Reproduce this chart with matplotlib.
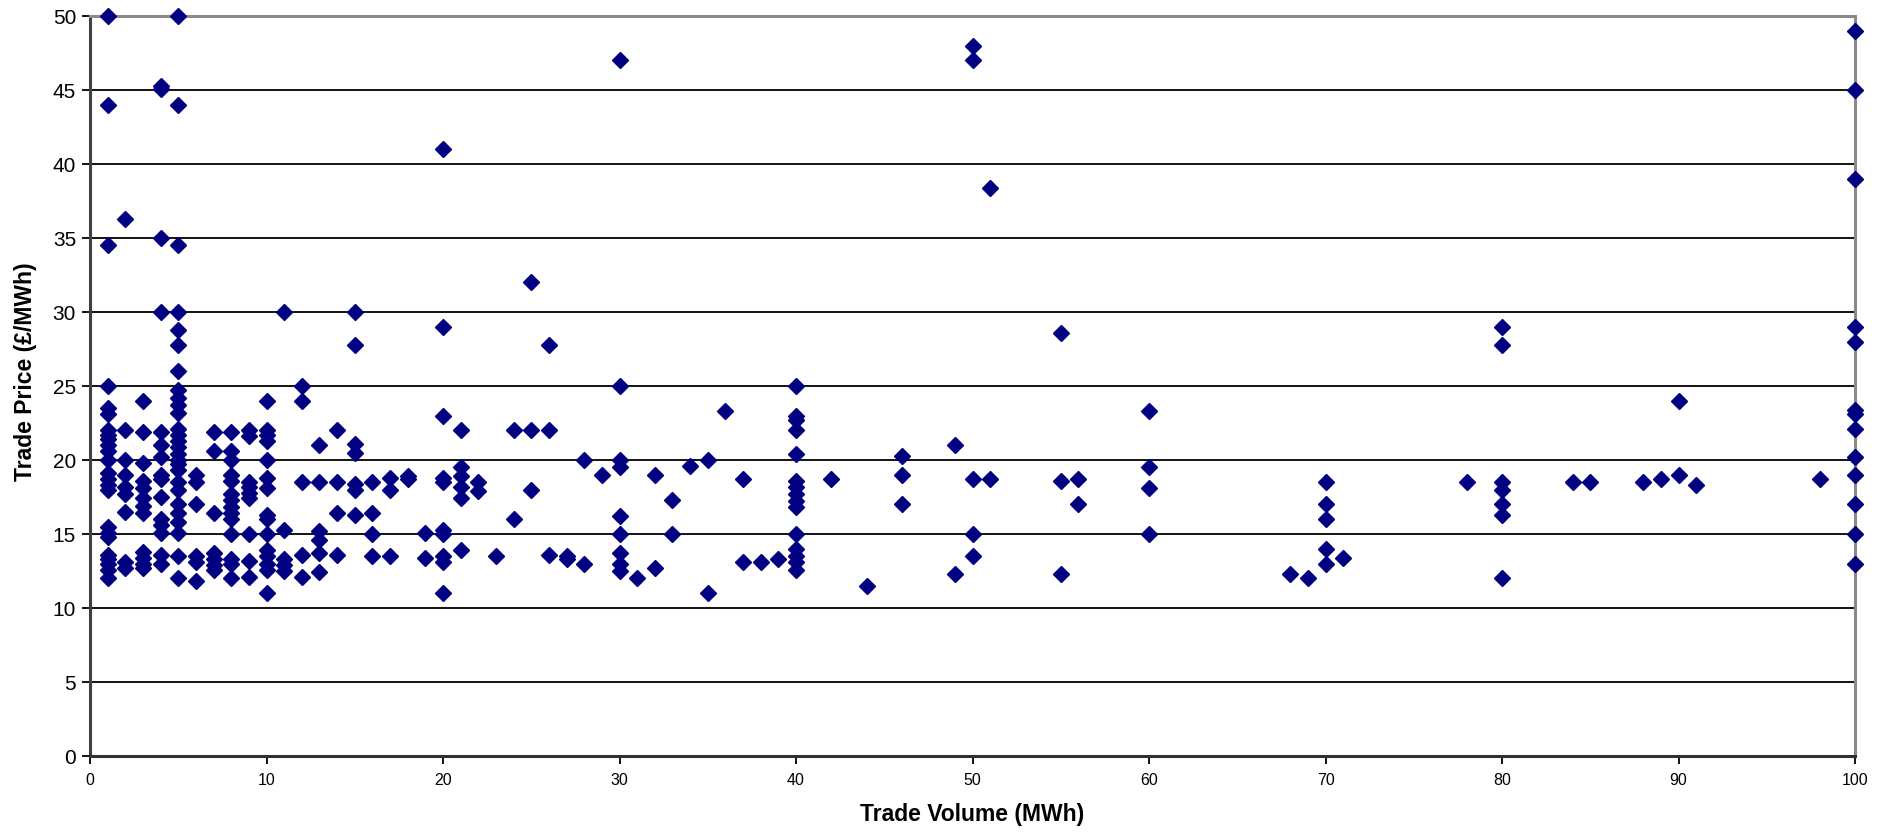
import matplotlib
matplotlib.use("Agg")
import matplotlib.pyplot as plt

# trade volume (MWh) levels and the trade prices (GBP/MWh) seen at each level
volume_levels = [1, 2, 3, 4, 5, 6, 7, 8, 9, 10,
                 11, 12, 13, 14, 15, 16, 17, 18, 19, 20,
                 21, 22, 23, 24, 25, 26, 27, 28, 29, 30,
                 31, 32, 33, 34, 35, 36, 37, 38, 39, 40,
                 42, 44, 46, 49, 50, 51, 55, 56, 60, 68,
                 69, 70, 71, 78, 80, 84, 85, 88, 89, 90,
                 91, 98, 100]

price_groups = [
    [50, 44, 34.5, 25, 23.5, 23.1, 22.0, 21.7, 21.4, 21.0, 20.6, 20.0, 19.1, 18.7,
     18.3, 18.0, 15.5, 15.1, 14.8, 13.6, 13.3, 13.0, 12.6, 12.0],
    [36.3, 22.0, 20.0, 19.0, 18.2, 17.7, 16.5, 13.1, 12.7],
    [24.0, 21.9, 19.8, 18.6, 18.1, 17.4, 16.9, 16.4, 13.8, 13.4, 13.0, 12.7],
    [45.3, 45.1, 35.0, 30.0, 21.9, 21.0, 20.2, 19.0, 18.7, 17.5, 16.0, 15.6, 15.1, 13.6, 13.0],
    [50, 44, 34.5, 30, 28.8, 27.8, 26.0, 24.7, 24.2, 23.7, 23.2, 22.1, 21.7, 21.3, 20.9,
     20.4, 20.0, 19.7, 19.3, 18.5, 18.0, 17.0, 16.4, 15.8, 15.1, 13.5, 12.0],
    [19.0, 18.5, 17.0, 13.5, 13.1, 11.8],
    [21.9, 20.6, 16.4, 13.7, 13.3, 12.9, 12.6],
    [21.9, 20.6, 20.0, 19.0, 18.6, 17.7, 17.3, 16.8, 16.4, 16.0, 15.0, 13.3, 13.0, 12.0],
    [22.0, 21.6, 18.5, 18.2, 17.8, 17.4, 15.0, 13.2, 12.1],
    [24.0, 22.0, 21.7, 21.3, 20.0, 18.8, 18.1, 16.3, 16.0, 15.0, 13.9, 13.5, 13.0, 12.6, 11.0],
    [30.0, 15.3, 13.3, 12.9, 12.5],
    [25.0, 24.0, 18.5, 13.6, 12.1],
    [21.0, 18.5, 15.2, 14.6, 13.7, 12.4],
    [22.0, 18.5, 16.4, 13.6],
    [30.0, 27.8, 21.1, 20.5, 18.4, 18.0, 16.3],
    [18.5, 16.4, 15.0, 13.5],
    [18.8, 18.0, 13.5],
    [18.9, 18.7],
    [15.1, 13.4],
    [41.0, 29.0, 23.0, 18.8, 18.5, 15.3, 15.0, 13.5, 13.1, 11.0],
    [22.0, 19.5, 18.9, 18.2, 17.4, 13.9],
    [18.5, 17.9],
    [13.5],
    [22.0, 16.0],
    [32.0, 22.0, 18.0],
    [27.8, 22.0, 13.6],
    [13.5, 13.3],
    [20.0, 13.0],
    [19.0],
    [47.0, 25.0, 20.0, 19.5, 16.2, 15.0, 13.7, 13.0, 12.5],
    [12.0],
    [19.0, 12.7],
    [17.3, 15.0],
    [19.6],
    [20.0, 11.0],
    [23.3],
    [18.7, 13.1],
    [13.1],
    [13.3],
    [25.0, 23.0, 22.7, 22.0, 20.4, 18.6, 18.2, 17.7, 17.2, 16.8, 15.0, 14.0, 13.5, 13.1, 12.6],
    [18.7],
    [11.5],
    [20.3, 19.0, 17.0],
    [21.0, 12.3],
    [48.0, 47.0, 18.7, 15.0, 13.5],
    [38.4, 18.7],
    [28.6, 18.6, 12.3],
    [18.7, 17.0],
    [23.3, 19.5, 18.1, 15.0],
    [12.3],
    [12.0],
    [18.5, 17.0, 16.0, 14.0, 13.0],
    [13.4],
    [18.5],
    [29.0, 27.8, 18.5, 18.0, 17.0, 16.3, 12.0],
    [18.5],
    [18.5],
    [18.5],
    [18.7],
    [24.0, 19.0],
    [18.3],
    [18.7],
    [49.0, 45.0, 39.0, 29.0, 28.0, 23.4, 23.1, 22.1, 20.2, 19.0, 17.0, 15.0, 13.0],
]

x_ticks = list(range(0, 101, 10))
y_ticks = list(range(0, 51, 5))

volumes = []
prices = []
for v, group in zip(volume_levels, price_groups):
    for p in group:
        volumes.append(v)
        prices.append(p)

plt.rcParams['font.family'] = ['Liberation Sans', 'DejaVu Sans']

fig = plt.figure(figsize=(18.88, 8.34), dpi=100)
ax = fig.add_axes([90 / 1888, 1 - 756 / 834, (1855 - 90) / 1888, (756 - 16) / 834])

for y in y_ticks[1:-1]:
    ax.axhline(y, color='black', linewidth=1.3, zorder=1)

ax.plot(volumes, prices, linestyle='none', marker='D', markersize=8,
        color='#000080', markeredgecolor='#000080', clip_on=False, zorder=3)

ax.set_xlim(0, 100)
ax.set_ylim(0, 50)
ax.set_xticks(x_ticks)
ax.set_yticks(y_ticks)
ax.tick_params(axis='y', labelsize=15, length=6, width=1.3, color='black', pad=4)
ax.tick_params(axis='x', labelsize=11.5, length=6, width=1.3, color='black', pad=6)

ax.spines['left'].set_color('#404040')
ax.spines['left'].set_linewidth(2.2)
ax.spines['bottom'].set_color('#303030')
ax.spines['bottom'].set_linewidth(2.2)
ax.spines['top'].set_color('#8a8a8a')
ax.spines['top'].set_linewidth(2.2)
ax.spines['right'].set_color('#8a8a8a')
ax.spines['right'].set_linewidth(2.2)

ax.set_xlabel('Trade Volume (MWh)', fontsize=16.5, fontweight='bold', labelpad=11)
ax.set_ylabel('Trade Price (£/MWh)', fontsize=16.5, fontweight='bold')
ax.yaxis.set_label_coords(-0.03, 0.52)

fig.savefig('out.png', dpi=100)
